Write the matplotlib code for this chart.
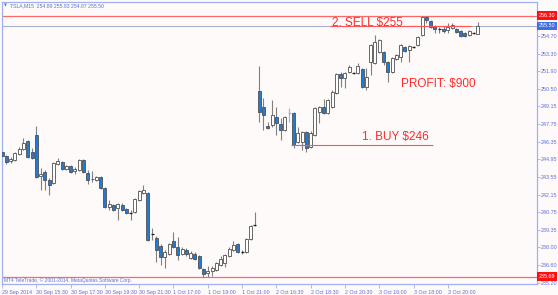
import matplotlib
matplotlib.use("Agg")
import matplotlib.pyplot as plt
import matplotlib.transforms as mtransforms
from matplotlib.patches import Rectangle

# TSLA M15 candles
opens = [245.53, 245.22, 244.82, 244.90, 245.37, 245.77, 246.40, 245.53, 246.87, 243.64,
         243.95, 243.32, 243.08, 244.58, 244.74, 244.19, 244.43, 244.03, 244.11, 244.90,
         243.87, 243.40, 243.32, 243.56, 242.69, 241.19, 241.35, 241.11, 241.35, 241.03,
         240.71, 240.79, 241.74, 242.29, 242.29, 239.05, 238.74, 238.11, 237.24, 237.47,
         238.50, 238.03, 237.47, 237.79, 237.16, 237.47, 237.32, 236.29, 235.97, 236.13,
         236.21, 236.61, 236.76, 237.32, 237.79, 238.27, 237.63, 237.63, 238.66, 239.77,
         250.35, 249.09, 247.59, 247.67, 248.30, 247.74, 247.27, 248.61, 248.61, 246.32,
         246.32, 247.11, 245.93, 246.87, 248.69, 249.09, 248.61, 249.09, 250.19, 251.69,
         251.38, 251.85, 251.77, 251.77, 252.09, 250.67, 252.64, 252.56, 253.43, 253.43,
         252.64, 251.85, 252.88, 253.04, 253.83, 253.59, 253.83, 253.99, 254.77, 256.20,
         255.88, 255.49, 255.25, 255.25, 255.17, 255.33, 255.25, 255.09, 254.93, 254.77,
         254.93, 254.89]
highs = [245.69, 245.30, 245.14, 245.53, 245.93, 246.64, 246.48, 245.85, 247.59, 244.27,
         244.11, 243.48, 244.74, 245.06, 244.82, 244.50, 244.50, 244.35, 244.98, 244.98,
         244.11, 244.03, 243.64, 243.64, 242.77, 241.74, 241.42, 241.50, 241.50, 241.11,
         240.95, 241.90, 242.53, 242.93, 242.37, 239.53, 238.90, 238.27, 237.79, 238.34,
         239.21, 238.82, 238.03, 237.95, 237.71, 237.63, 237.39, 236.37, 236.53, 236.53,
         236.84, 237.32, 237.47, 238.03, 238.50, 238.34, 237.79, 238.74, 239.77, 240.79,
         252.33, 249.80, 247.90, 249.64, 249.09, 248.22, 248.38, 249.01, 248.69, 247.51,
         247.19, 247.19, 247.19, 249.09, 249.17, 249.72, 249.72, 250.43, 251.77, 251.85,
         251.85, 252.41, 251.85, 252.56, 252.17, 252.17, 254.06, 254.77, 254.46, 253.51,
         252.72, 253.04, 253.27, 254.06, 253.91, 253.99, 253.91, 254.70, 256.30, 256.25,
         255.96, 255.57, 255.41, 255.49, 255.72, 255.72, 255.33, 255.17, 255.01, 255.17,
         255.01, 255.83]
lows = [245.14, 244.58, 244.66, 244.82, 245.30, 245.69, 245.06, 244.98, 243.48, 242.53,
        242.53, 242.14, 243.00, 244.50, 244.11, 244.11, 243.87, 243.79, 244.03, 243.87,
        243.00, 243.16, 243.24, 242.61, 241.11, 240.95, 240.87, 240.16, 240.87, 240.63,
        240.16, 240.71, 241.66, 242.21, 238.50, 238.58, 236.84, 236.61, 236.37, 237.39,
        237.95, 237.00, 237.39, 237.32, 237.08, 237.00, 236.29, 235.69, 235.69, 235.72,
        236.13, 236.53, 236.45, 237.24, 237.71, 237.55, 237.47, 237.55, 238.58, 239.69,
        247.90, 247.27, 247.35, 247.51, 246.87, 246.48, 247.19, 247.90, 245.85, 246.24,
        245.69, 245.53, 245.85, 246.80, 247.82, 248.53, 248.53, 249.01, 250.11, 250.67,
        250.59, 251.77, 251.69, 251.69, 250.59, 250.43, 251.62, 252.48, 253.35, 252.41,
        251.06, 251.77, 252.80, 252.64, 253.43, 252.64, 253.75, 253.91, 254.70, 255.72,
        255.33, 254.93, 254.93, 254.93, 254.93, 255.25, 254.93, 254.62, 254.62, 254.70,
        254.85, 254.87]
closes = [245.22, 244.74, 244.98, 245.45, 245.77, 246.24, 245.14, 245.06, 243.56, 243.79,
          243.32, 242.93, 244.66, 244.82, 244.19, 244.43, 243.95, 244.19, 244.90, 243.95,
          243.32, 243.36, 243.56, 242.69, 241.19, 241.42, 240.95, 241.42, 240.95, 240.71,
          240.71, 241.82, 242.45, 242.53, 238.58, 239.05, 237.79, 237.24, 237.63, 238.27,
          238.03, 237.39, 237.87, 237.47, 237.55, 237.08, 236.37, 235.89, 236.13, 236.37,
          236.76, 237.08, 237.39, 237.87, 238.19, 237.63, 237.63, 238.66, 239.69, 239.77,
          248.69, 248.46, 247.43, 248.46, 247.82, 247.27, 248.30, 248.61, 246.09, 247.03,
          247.11, 245.85, 247.03, 249.01, 249.09, 248.61, 249.64, 250.27, 251.69, 251.38,
          251.77, 252.25, 251.77, 252.33, 250.67, 251.46, 253.99, 254.22, 254.38, 252.64,
          251.85, 252.96, 253.20, 253.99, 253.51, 253.91, 253.83, 254.62, 256.22, 255.96,
          255.41, 255.25, 255.25, 255.09, 255.41, 255.57, 255.01, 254.70, 254.70, 255.09,
          254.93, 255.50]
faint_bars = [67]

tick_bars = [0, 8, 16, 24, 32, 40, 48, 56, 64, 72, 80, 88, 96, 104]
tick_labels = ["29 Sep 2014", "30 Sep 15:30", "30 Sep 17:30", "30 Sep 19:30", "30 Sep 21:30",
               "1 Oct 17:00", "1 Oct 19:00", "1 Oct 21:00", "2 Oct 16:30", "2 Oct 18:30",
               "2 Oct 20:30", "3 Oct 16:00", "3 Oct 18:00", "3 Oct 20:00"]
price_ticks = [254.70, 253.30, 251.90, 250.50, 249.15, 247.75, 246.35, 244.95, 243.55,
               242.15, 240.75, 239.35, 238.00, 236.60, 235.20]

high_line = 256.30
bid_line = 255.50
low_line = 235.69
buy_price = 246.09
sell_price = 255.47

BG = "#fffafa"
FRAME = "#9fb2ee"
TXT = "#5a70d8"
BEAR = "#1f7ad9"
EDGE = "#505050"
WICK = "#808080"
RED = "#ff2a2a"
SMALL = "Liberation Sans"

fig = plt.figure(figsize=(5.58, 2.95), dpi=100, facecolor=BG)
ax = fig.add_axes([2 / 558, 1 - 284 / 295, 535 / 558, 282 / 295], facecolor=BG)

w = 0.7
for i in range(len(opens)):
    o, h, l, c = opens[i], highs[i], lows[i], closes[i]
    if i in faint_bars:
        ax.vlines(i, l, h, color="#8cbcf2", lw=0.9, zorder=3)
        ax.hlines(o, i - w / 2, i + w / 2, color="#8cbcf2", lw=0.9, zorder=3)
        continue
    ax.vlines(i, l, h, color=WICK, lw=0.8, zorder=2)
    if abs(c - o) < 0.01:
        ax.hlines(o, i - w / 2, i + w / 2, color="#202020", lw=0.9, zorder=3)
        continue
    face = "white" if c > o else BEAR
    ax.add_patch(Rectangle((i - w / 2, min(o, c)), w, abs(c - o), facecolor=face,
                           edgecolor=EDGE, lw=0.6, zorder=3))

ax.set_xlim(0.05, 124.8)
ax.set_ylim(235.10, 257.38)

# horizontal price lines
ax.axhline(high_line, color="#ff6666", lw=0.9, zorder=1)
ax.axhline(bid_line, color="#a9b0cc", lw=0.8, zorder=1)
ax.axhline(low_line, color="#ff6666", lw=0.9, zorder=1)
ax.hlines(buy_price, 67.5, 100.5, color="#ff5555", lw=0.8, zorder=4)
ax.hlines(sell_price, 76.5, 109.5, color="#ff5555", lw=0.8, zorder=4)

ax.text(77, 255.75, "2. SELL $255", color=RED, fontsize=8.5, family="Liberation Sans",
        va="center", ha="left", zorder=5)
ax.text(84, 246.75, "1. BUY $246", color=RED, fontsize=8.5, family="Liberation Sans",
        va="center", ha="left", zorder=5)
ax.text(93, 250.90, "PROFIT: $900", color=RED, fontsize=8.5, family="Liberation Sans",
        va="center", ha="left", zorder=5)

for s in ax.spines.values():
    s.set_color(FRAME)
    s.set_linewidth(0.9)

ax.yaxis.tick_right()
ax.set_yticks(price_ticks)
ax.set_yticklabels([f"{p:.2f}" for p in price_ticks], family=SMALL)
ax.tick_params(axis="y", direction="out", length=2, width=0.6, color=FRAME,
               labelsize=3.9, labelcolor=TXT, pad=1)
ax.set_xticks(tick_bars)
ax.set_xticklabels(tick_labels, ha="left", family=SMALL)
ax.tick_params(axis="x", direction="out", length=3, width=0.6, color=FRAME,
               labelsize=3.8, labelcolor=TXT, pad=1.5)

# price tags on the right scale
trans = mtransforms.blended_transform_factory(ax.transAxes, ax.transData)
for p, col in [(high_line, "#ff1010"), (bid_line, "#3f6fe0"), (low_line, "#ff1010")]:
    ax.text(1.003, p, f"{p:.2f}", transform=trans, color="white", fontsize=3.9,
            family=SMALL, va="center", ha="left", zorder=6, clip_on=False,
            bbox=dict(facecolor=col, edgecolor="none", pad=1.2))

fig.text(4 / 558, 1 - 5.5 / 295, "\u25bc", color=TXT, fontsize=2.8, va="center")
fig.text(10 / 558, 1 - 5.5 / 295, "TSLA,M15  254.89 255.83 254.87 255.50", color=TXT,
         fontsize=3.7, family=SMALL, va="center")
fig.text(4 / 558, 1 - 280.5 / 295, "MT4 TeleTrade, \u00a9 2001-2014, MetaQuotes Software Corp.",
         color=TXT, fontsize=3.5, family=SMALL, va="center")

fig.savefig("out.png", dpi=100, facecolor=BG)
